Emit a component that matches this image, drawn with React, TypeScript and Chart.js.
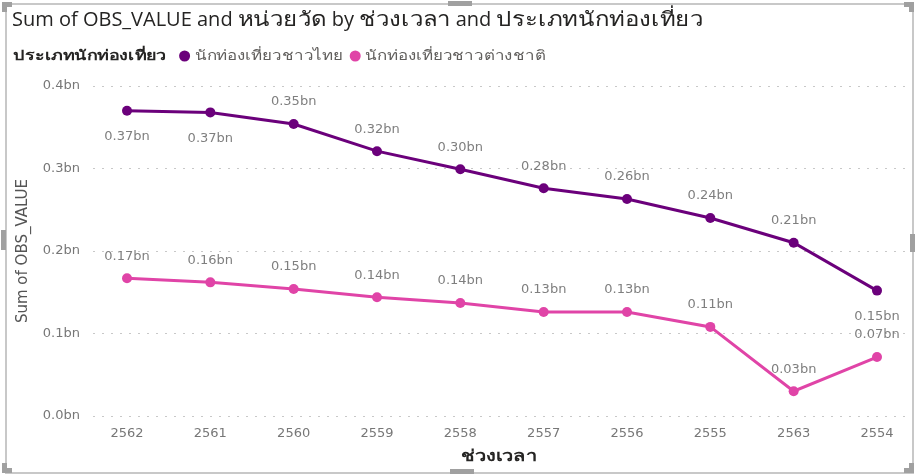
import React, { useEffect, useRef } from "react";
import { Chart, registerables } from "chart.js";

Chart.register(...registerables);

const chartTitle = "Sum of OBS_VALUE and หน่วยวัด by ช่วงเวลา and ประเภทนักท่องเที่ยว";
const legendTitle = "ประเภทนักท่องเที่ยว";
const seriesNames = ["นักท่องเที่ยวชาวไทย", "นักท่องเที่ยวชาวต่างชาติ"];
const categories = ["2562", "2561", "2560", "2559", "2558", "2557", "2556", "2555", "2563", "2554"];
const thaiValues = [370e6, 368e6, 354e6, 321e6, 299e6, 276e6, 263e6, 240e6, 210e6, 152e6];
const foreignValues = [167e6, 162e6, 154e6, 144e6, 137e6, 126e6, 126e6, 108e6, 30e6, 71.5e6];
const yTickValues = [0, 0.1e9, 0.2e9, 0.3e9, 0.4e9];
const xTitle = "ช่วงเวลา";
const yTitle = "Sum of OBS_VALUE";

// label placement (above / below the point), per series
const thaiLabelPlace = ["below", "below", "above", "above", "above", "above", "above", "above", "above", "below"];
const foreignLabelPlace = ["above", "above", "above", "above", "above", "above", "above", "above", "above", "above"];

const COLORS = ["#6B007B", "#E044A7"];
const FONT = "'Segoe UI', 'Open Sans', 'Noto Sans', sans-serif";
const NUM_FONT = "'DejaVu Sans', 'Open Sans', sans-serif";

const fmtBn = (v: number, d: number) => (v / 1e9).toFixed(d) + "bn";

// draw text with a horizontal stretch (the reference Thai font is wider)
function drawStretched(ctx: CanvasRenderingContext2D, text: string, x: number, y: number, sx: number) {
  const w = ctx.measureText(text).width * sx;
  ctx.save();
  ctx.translate(x, y);
  ctx.scale(sx, 1);
  ctx.fillText(text, 0, 0);
  ctx.restore();
  return w;
}

function drawMixed(ctx: CanvasRenderingContext2D, text: string, x: number, y: number, thaiSx: number) {
  const runs = text.split(/([\u0E00-\u0E7F]+)/).filter((r) => r.length);
  let cx = x;
  runs.forEach((r) => {
    const thai = /[\u0E00-\u0E7F]/.test(r);
    cx += drawStretched(ctx, r, cx, y, thai ? thaiSx : 1);
  });
  return cx - x;
}

const dataLabelPlugin = {
  id: "dataLabels",
  afterDatasetsDraw(chart: any) {
    const ctx = chart.ctx;
    const places = [thaiLabelPlace, foreignLabelPlace];
    ctx.save();
    ctx.font = `13px ${NUM_FONT}`;
    ctx.fillStyle = "#7f7f7f";
    ctx.textAlign = "center";
    ctx.textBaseline = "middle";
    chart.data.datasets.forEach((ds: any, i: number) => {
      const meta = chart.getDatasetMeta(i);
      meta.data.forEach((pt: any, j: number) => {
        const v = ds.data[j].y;
        const below = places[i][j] === "below";
        ctx.fillText(fmtBn(v, 2), pt.x, pt.y + (below ? 26 : -22));
      });
    });
    ctx.restore();
  },
};

const headerPlugin = {
  id: "header",
  afterDraw(chart: any) {
    const ctx: CanvasRenderingContext2D = chart.ctx;
    ctx.save();
    ctx.textBaseline = "middle";
    ctx.textAlign = "left";

    // title
    ctx.font = `20px ${FONT}`;
    ctx.fillStyle = "#252423";
    drawMixed(ctx, chartTitle, 12, 20, 1.2);

    // legend
    const y = 56;
    ctx.font = `bold 14px ${FONT}`;
    ctx.fillStyle = "#252423";
    let x = 13;
    x += drawStretched(ctx, legendTitle, x, y, 1.28);
    x += 18;
    ctx.font = `14px ${FONT}`;
    seriesNames.forEach((name, i) => {
      ctx.fillStyle = COLORS[i];
      ctx.beginPath();
      ctx.arc(x, y, 5.5, 0, Math.PI * 2);
      ctx.fill();
      x += 10;
      ctx.fillStyle = "#605E5C";
      x += drawStretched(ctx, name, x, y, 1.21);
      x += 13;
    });

    // x axis title
    const area = chart.chartArea;
    ctx.font = `bold 16px ${FONT}`;
    ctx.fillStyle = "#252423";
    const w = ctx.measureText(xTitle).width * 1.25;
    drawStretched(ctx, xTitle, (area.left + area.right) / 2 - w / 2, 456, 1.25);
    ctx.restore();
  },
};

const handles = [
  { left: 2, top: 2, width: 10, height: 5 },
  { left: 2, top: 2, width: 5, height: 10 },
  { left: 904, top: 2, width: 10, height: 5 },
  { left: 909, top: 2, width: 5, height: 10 },
  { left: 2, top: 468, width: 10, height: 5 },
  { left: 2, top: 463, width: 5, height: 10 },
  { left: 904, top: 468, width: 10, height: 5 },
  { left: 909, top: 463, width: 5, height: 10 },
  { left: 448, top: 1, width: 24, height: 5 },
  { left: 450, top: 469, width: 24, height: 5 },
  { left: 1, top: 230, width: 5, height: 20 },
  { left: 910, top: 234, width: 5, height: 18 },
];

export default function App() {
  const ref = useRef<HTMLCanvasElement>(null);

  useEffect(() => {
    document.body.style.margin = "0";
    const chart = new Chart(ref.current as HTMLCanvasElement, {
      type: "line",
      data: {
        datasets: [thaiValues, foreignValues].map((vals, i) => ({
          label: seriesNames[i],
          data: vals.map((v, j) => ({ x: j, y: v })),
          borderColor: COLORS[i],
          backgroundColor: COLORS[i],
          pointBackgroundColor: COLORS[i],
          pointBorderColor: COLORS[i],
          pointRadius: 5,
          pointBorderWidth: 0,
          borderWidth: 3,
          tension: 0,
        })),
      },
      options: {
        animation: false,
        responsive: false,
        layout: { padding: { left: 12, right: 11, top: 86, bottom: 10 } },
        plugins: {
          legend: { display: false },
          tooltip: { enabled: false },
          title: { display: false },
        },
        scales: {
          x: {
            type: "linear",
            min: -0.408,
            max: 9.336,
            afterBuildTicks: (scale: any) => {
              scale.ticks = categories.map((_, i) => ({ value: i }));
            },
            afterFit: (scale: any) => {
              scale.height = 50;
            },
            grid: { display: false, drawTicks: false },
            border: { display: false },
            ticks: {
              autoSkip: false,
              maxRotation: 0,
              padding: 10,
              color: "#777777",
              font: { family: NUM_FONT, size: 13 },
              callback: (v: any) => categories[v as number] ?? "",
            },
            title: { display: false },
          },
          y: {
            min: 0,
            max: 0.4e9,
            afterBuildTicks: (scale: any) => {
              scale.ticks = yTickValues.map((v) => ({ value: v }));
            },
            afterFit: (scale: any) => {
              scale.width = 81;
            },
            grid: { color: "#c8c8c8", lineWidth: 1, drawTicks: false },
            border: { display: false, dash: [2, 7] },
            ticks: {
              padding: 13,
              color: "#777777",
              font: { family: NUM_FONT, size: 13 },
              callback: (v: any) => fmtBn(v as number, 1),
            },
            title: {
              display: true,
              text: yTitle,
              color: "#555555",
              font: { family: NUM_FONT, size: 15 },
              padding: { top: 2, bottom: 0 },
            },
          },
        },
      } as any,
      plugins: [dataLabelPlugin, headerPlugin],
    });
    return () => chart.destroy();
  }, []);

  return (
    <div style={{ position: "relative", width: 916, height: 476, background: "#fff", overflow: "hidden" }}>
      <canvas ref={ref} width={916} height={476} style={{ position: "absolute", left: 0, top: 0 }} />
      <div
        style={{
          position: "absolute",
          left: 5,
          top: 3,
          width: 905,
          height: 467,
          border: "2px solid #c8c8c8",
          pointerEvents: "none",
        }}
      />
      {handles.map((h, i) => (
        <div key={i} style={{ position: "absolute", background: "#a0a0a0", ...h }} />
      ))}
    </div>
  );
}
